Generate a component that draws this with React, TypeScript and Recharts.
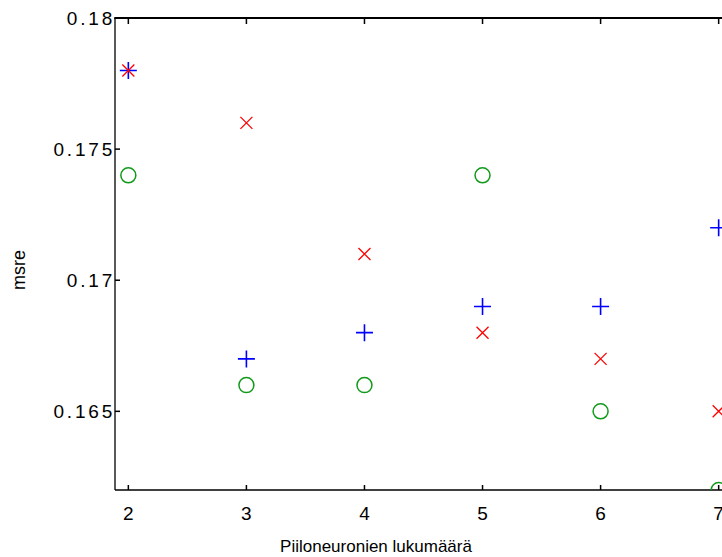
import React from 'react';
import { ScatterChart, Scatter, XAxis, YAxis } from 'recharts';

// hidden neuron counts on the x axis
const neuronCounts = [2, 3, 4, 5, 6, 7];
const xTicks = [2, 3, 4, 5, 6, 7];
const yTicks = [0.165, 0.17, 0.175, 0.18];
const yTickLabels = ['0.165', '0.17', '0.175', '0.18'];

// msre per run
const plusValues = [0.178, 0.167, 0.168, 0.169, 0.169, 0.172];
const crossValues = [0.178, 0.176, 0.171, 0.168, 0.167, 0.165];
const circleValues = [0.174, 0.166, 0.166, 0.174, 0.165, 0.162];

const FONT = '"Liberation Sans", Arial, sans-serif';
const TEXT = '#000';
const PLOT_TOP = 18;

const toPoints = (values: number[]) =>
  neuronCounts.map((n, i) => ({ x: n, y: values[i] }));

const plusData = toPoints(plusValues);
const crossData = toPoints(crossValues);
const circleData = toPoints(circleValues);

const PlusMarker = (props: any) => {
  const { cx, cy } = props;
  return (
    <path
      d={`M${cx - 8.5},${cy}H${cx + 8.5}M${cx},${cy - 8.5}V${cy + 8.5}`}
      stroke="#0000ff"
      strokeWidth={1.6}
      fill="none"
    />
  );
};

const CrossMarker = (props: any) => {
  const { cx, cy } = props;
  return (
    <path
      d={`M${cx - 6},${cy - 6}L${cx + 6},${cy + 6}M${cx - 6},${cy + 6}L${cx + 6},${cy - 6}`}
      stroke="#ff0000"
      strokeWidth={1.3}
      fill="none"
    />
  );
};

const CircleMarker = (props: any) => {
  const { cx, cy } = props;
  return <circle cx={cx} cy={cy} r={7.5} stroke="#11991a" strokeWidth={1.5} fill="none" />;
};

// bottom ticks: short inward tick, mirrored tick on the top border, label below
const BottomTick = (props: any) => {
  const { x, y, payload } = props;
  return (
    <g>
      <rect x={x - 0.75} y={y - 5} width={1.5} height={5} fill="#000" />
      <rect x={x - 0.75} y={PLOT_TOP} width={1.5} height={6} fill="#000" />
      <text x={x} y={y + 30} textAnchor="middle" fontFamily={FONT} fontSize={19} fill={TEXT}>
        {payload.value}
      </text>
    </g>
  );
};

// left ticks; the top one also carries the top border of the box
const LeftTick = (props: any) => {
  const { x, y, payload, index } = props;
  const isTop = index === yTicks.length - 1;
  return (
    <g>
      <rect x={x} y={y - 0.75} width={5} height={1.5} fill="#000" />
      {isTop && <rect x={x - 0.75} y={y - 1} width={640} height={2} fill="#000" />}
      <text
        x={x}
        y={y + 7}
        textAnchor="end"
        fontFamily={FONT}
        fontSize={19}
        letterSpacing={2.8}
        fill={TEXT}
      >
        {yTickLabels[index] ?? payload.value}
      </text>
    </g>
  );
};

export default function App() {
  return (
    <div
      style={{
        position: 'absolute',
        left: 0,
        top: 0,
        width: 722,
        height: 557,
        overflow: 'hidden',
        background: '#fff',
      }}
    >
      <ScatterChart
        width={732}
        height={557}
        margin={{ top: PLOT_TOP, right: 0, bottom: 0, left: 0 }}
      >
        <XAxis
          type="number"
          dataKey="x"
          domain={[1.887, 7.113]}
          ticks={xTicks}
          allowDataOverflow
          height={67}
          tickSize={0}
          tickMargin={0}
          tickLine={false}
          axisLine={{ stroke: '#000', strokeWidth: 1.3 }}
          tick={<BottomTick />}
        />
        <YAxis
          type="number"
          dataKey="y"
          domain={[0.162, 0.18]}
          ticks={yTicks}
          allowDataOverflow
          width={115}
          tickSize={0}
          tickMargin={0}
          tickLine={false}
          axisLine={{ stroke: '#000', strokeWidth: 1.3 }}
          tick={<LeftTick />}
        />
        <Scatter data={circleData} shape={<CircleMarker />} isAnimationActive={false} />
        <Scatter data={plusData} shape={<PlusMarker />} isAnimationActive={false} />
        <Scatter data={crossData} shape={<CrossMarker />} isAnimationActive={false} />
        <text x={376} y={552} textAnchor="middle" fontFamily={FONT} fontSize={17} fill={TEXT}>
          Piiloneuronien lukumäärä
        </text>
        <text
          x={0}
          y={0}
          transform="translate(25,270) rotate(-90)"
          textAnchor="middle"
          fontFamily={FONT}
          fontSize={18}
          fill={TEXT}
        >
          msre
        </text>
      </ScatterChart>
    </div>
  );
}
